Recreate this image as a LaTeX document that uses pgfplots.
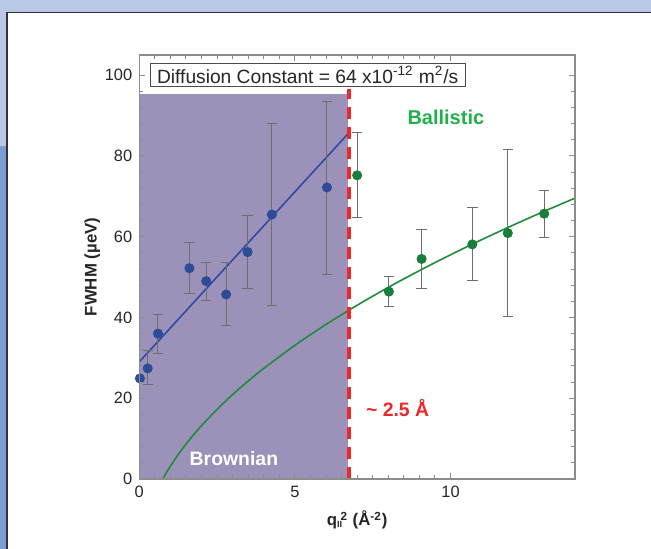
\documentclass[border=0pt]{standalone}
\usepackage{fontspec}
\setmainfont{Liberation Sans}
\usepackage{pgfplots}
\pgfplotsset{compat=1.18}

\definecolor{bgblue}{RGB}{184,200,230}
\definecolor{bandblue}{RGB}{124,158,211}
\definecolor{shade}{RGB}{155,145,185}
\definecolor{fitblue}{RGB}{46,75,165}
\definecolor{ptblue}{RGB}{45,75,150}
\definecolor{fitgreen}{RGB}{30,140,60}
\definecolor{ptgreen}{RGB}{25,125,60}
\definecolor{labgreen}{RGB}{34,176,75}
\definecolor{cutred}{RGB}{238,40,40}
\definecolor{axgray}{RGB}{140,140,140}
\definecolor{errgray}{RGB}{110,110,110}

\begin{document}
\begin{tikzpicture}
% slide frame, in pixel units
\begin{scope}[x=0.5pt,y=-0.5pt]
\path[use as bounding box] (0,0) rectangle (651,549);
\fill[bgblue] (0,0) rectangle (651,549);
\fill[bandblue] (0,146) rectangle (7,549);
\fill[white] (7,12.5) rectangle (651,549);
\draw[black!80, line width=0.6pt] (7,549) -- (7,12.5) -- (651,12.5);
\end{scope}

\begin{axis}[
  at={(69.65pt,-239.5pt)}, anchor=south west,
  scale only axis, width=217.85pt, height=212pt,
  xmin=0, xmax=14, ymin=0, ymax=105,
  xtick={0,5,10}, ytick={0,20,...,100},
  minor x tick num=9, minor y tick num=4,
  axis line style={axgray, line width=0.6pt},
  tick style={axgray, line width=0.5pt},
  major tick length=3pt, minor tick length=1.8pt,
  tick label style={font=\fontsize{8.2}{9}\selectfont, text=black!85},
  /pgf/number format/assume math mode=true,
  xlabel={\textbf{q\textsubscript{\fontsize{4.5}{5}\selectfont II}\hspace{-0.15em}\textsuperscript{2} (Å\textsuperscript{-2})}},
  ylabel={\textbf{FWHM (µeV)}},
  label style={font=\fontsize{8.4}{10}\selectfont, text=black!85},
  xlabel style={at={(axis description cs:0.5,-0.097)}, anchor=center},
  ylabel style={at={(axis description cs:-0.108,0.5)}, anchor=center},
  axis on top, clip mode=individual,
]
% Brownian region
\addplot[fill=shade, draw=none] coordinates {(0,0) (6.72,0) (6.72,95.3) (0,95.3)} -- cycle;

% ballistic fit
\addplot[fitgreen, line width=0.8pt, smooth] coordinates {
 (0.75,0) (0.8,0.65) (0.9,1.96) (1.0,3.2) (1.25,6.06) (1.5,8.64) (1.75,11.01)
 (2,13.22) (2.5,17.26) (3,20.92) (3.5,24.27) (4,27.4) (5,33.11) (6,38.28)
 (7,43.03) (8,47.45) (9,51.6) (10,55.53) (11,59.26) (12,62.83) (13,66.25) (14,69.55)
};

% diffusive fit
\addplot[fitblue, line width=0.8pt] coordinates {(0,29) (6.73,85.7)};

% crossover
\addplot[cutred, line width=1.8pt, dash pattern=on 6pt off 4pt] coordinates {(6.73,0) (6.73,96.5)};

\pgfplotsset{errs/.style={
  error bars/.cd, y dir=both, y explicit,
  error bar style={errgray, line width=0.5pt},
  error mark options={rotate=90, errgray, mark size=2.6pt, line width=0.5pt}}}

\addplot[only marks, mark=*, mark size=2.3pt, color=ptblue, errs] coordinates {
 (0.27,27.4) += (0,4.3) -= (0,4.0)
 (0.60,36.0) += (0,4.8) -= (0,5.0)
 (1.61,52.2) += (0,6.3) -= (0,6.3)
 (2.15,49.0) += (0,4.6) -= (0,4.7)
 (2.79,45.7) += (0,7.9) -= (0,7.7)
 (3.48,56.2) += (0,9.1) -= (0,9.1)
 (4.26,65.5) += (0,22.5) -= (0,22.5)
 (6.03,72.2) += (0,21.4) -= (0,21.6)
};
\addplot[only marks, mark=*, mark size=2.3pt, color=ptblue] coordinates {(0.02,24.9)};

\addplot[only marks, mark=*, mark size=2.3pt, color=ptgreen, errs] coordinates {
 (7.00,75.2) += (0,10.5) -= (0,10.4)
 (8.02,46.4) += (0,3.7) -= (0,3.6)
 (9.07,54.5) += (0,7.4) -= (0,7.3)
 (10.70,58.1) += (0,9.1) -= (0,9.0)
 (11.84,60.9) += (0,20.6) -= (0,20.7)
 (13.01,65.7) += (0,5.8) -= (0,5.8)
};

\node[draw=black!70, fill=white, line width=0.5pt, inner xsep=3.5pt, inner ysep=1.5pt,
  font=\fontsize{9.6}{11}\selectfont, text=black!85]
  at (axis cs:5.41,100.1) {Diffusion Constant = 64 x10\textsuperscript{-12} m\textsuperscript{2}/s};
\node[font=\fontsize{10}{12}\selectfont\bfseries, text=labgreen] at (axis cs:9.85,89.5) {Ballistic};
\node[font=\fontsize{9.7}{12}\selectfont\bfseries, text=white] at (axis cs:3.04,5.0) {Brownian};
\node[font=\fontsize{9.7}{12}\selectfont\bfseries, text=cutred] at (axis cs:8.3,17.6) {\textasciitilde\ 2.5 Å};
\end{axis}
\end{tikzpicture}
\end{document}
